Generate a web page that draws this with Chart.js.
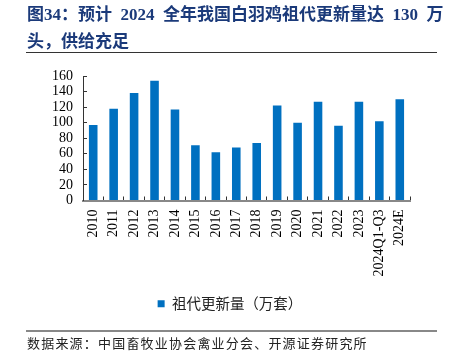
<!DOCTYPE html>
<html>
<head>
<meta charset="utf-8">
<script src="https://cdn.jsdelivr.net/npm/chart.js@4.4.1/dist/chart.umd.min.js"></script>
<style>
  body { margin: 0; background: #fff; }
  #wrap { position: relative; width: 455px; height: 354px; overflow: hidden; }
  #chart { position: absolute; left: 0; top: 0; }
  .title {
    position: absolute; left: 27px; width: 420px;
    font-family: "Liberation Serif", "Noto Sans CJK SC", serif;
    font-weight: bold; font-size: 17px; color: #1B3A7A; white-space: pre;
    line-height: 20px;
  }
  .rule { position: absolute; left: 26px; width: 411px; }
  #source {
    position: absolute; left: 27px; top: 335px;
    font-family: "Noto Sans CJK SC", sans-serif; font-size: 13px;
    letter-spacing: 1.2px; color: #222; line-height: 16px;
  }
</style>
</head>
<body>
<div id="wrap">
  <canvas id="chart" width="455" height="354"></canvas>
  <div class="title" style="top:5px;">图34：预计  2024  全年我国白羽鸡祖代更新量达  130  万</div>
  <div class="title" style="top:32px;">头，供给充足</div>
  <div class="rule" style="top:52px; height:1px; background:#333;"></div>
  <div class="rule" style="top:330px; height:2px; background:#888;"></div>
  <div id="source">数据来源：中国畜牧业协会禽业分会、开源证券研究所</div>
</div>
<script>
const categories = ["2010", "2011", "2012", "2013", "2014", "2015", "2016", "2017",
  "2018", "2019", "2020", "2021", "2022", "2023", "2024Q1-Q3", "2024E"];
const renewals = [97, 118, 138, 154, 117, 71, 62, 68, 74, 122, 100, 127, 96, 127, 102, 130];
const yTicks = [0, 20, 40, 60, 80, 100, 120, 140, 160];
const seriesName = "祖代更新量（万套）";

const ctx = document.getElementById("chart").getContext("2d");

new Chart(ctx, {
  type: "bar",
  data: {
    labels: categories,
    datasets: [
      {
        label: seriesName,
        data: renewals,
        backgroundColor: "#0070C0",
        barPercentage: 0.42,
        categoryPercentage: 1.0,
      },
    ],
  },
  options: {
    responsive: false,
    animation: false,
    devicePixelRatio: 1,
    layout: { padding: { top: 76, right: 45, left: 50, bottom: 33 } },
    plugins: {
      tooltip: { enabled: false },
      legend: {
        position: "bottom",
        labels: {
          boxWidth: 7,
          boxHeight: 7,
          padding: 6,
          color: "#222",
          font: { family: "Noto Sans CJK SC", size: 14.5 },
        },
      },
    },
    scales: {
      x: {
        grid: { display: true, drawOnChartArea: false, offset: true, tickLength: -4, color: "#333" },
        border: { color: "#888", width: 2 },
        ticks: {
          minRotation: 90,
          maxRotation: 90,
          autoSkip: false,
          padding: 13,
          color: "#000",
          font: { family: "Liberation Serif", size: 14 },
        },
        afterFit: (scale) => { scale.height = 90; },
      },
      y: {
        min: 0,
        max: 160,
        afterBuildTicks: (scale) => { scale.ticks = yTicks.map((v) => ({ value: v })); },
        grid: { display: true, drawOnChartArea: false, tickLength: -4, color: "#333" },
        border: { color: "#333", width: 1 },
        ticks: {
          autoSkip: false,
          padding: 14,
          color: "#000",
          font: { family: "Liberation Serif", size: 14 },
        },
        afterFit: (scale) => { scale.width = 33; },
      },
    },
  },
});
</script>
</body>
</html>
